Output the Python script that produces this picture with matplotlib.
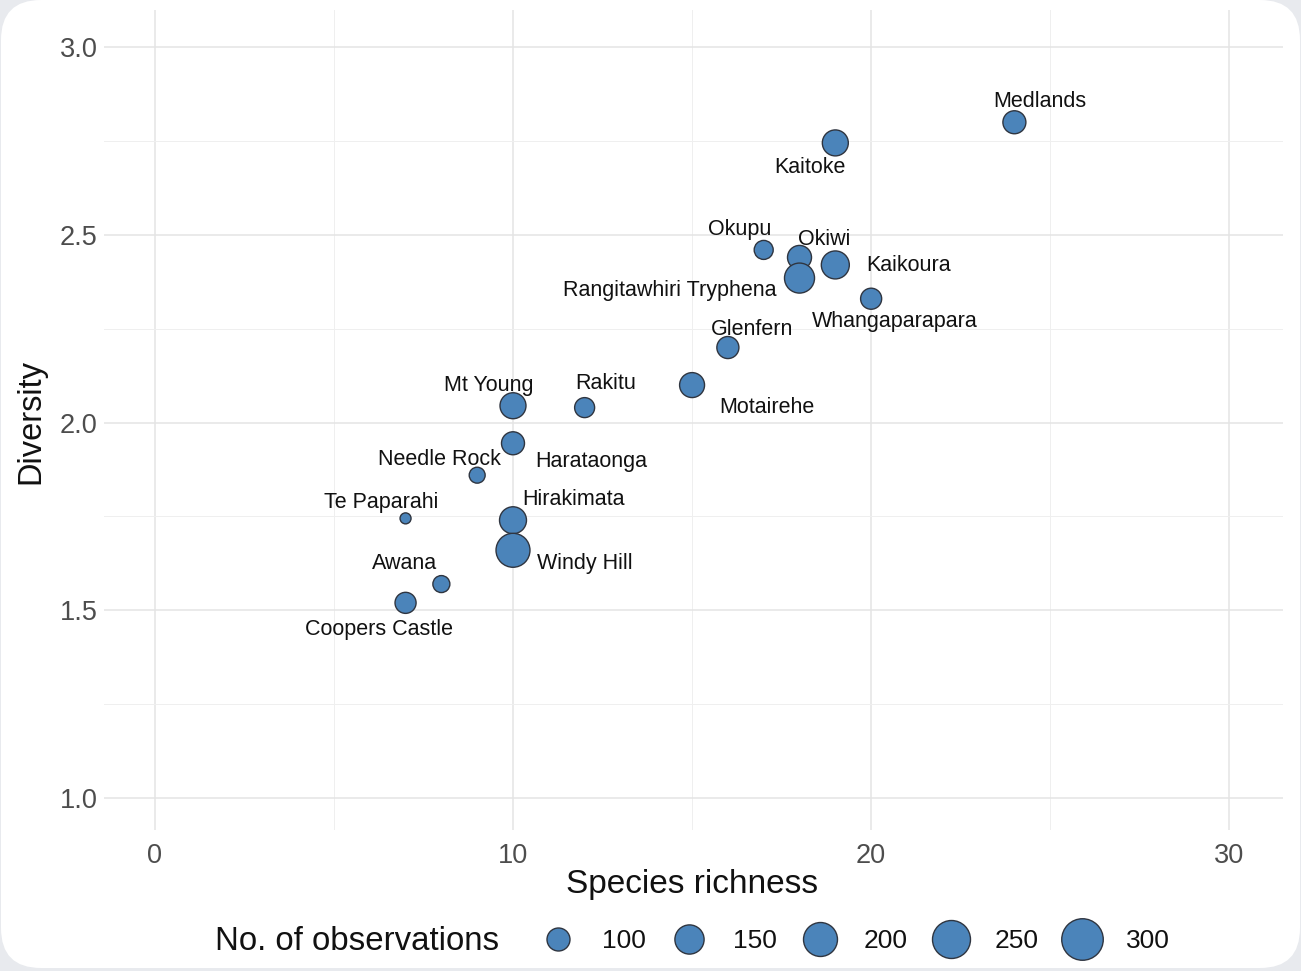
import numpy as np
import matplotlib
matplotlib.use("Agg")
import matplotlib.pyplot as plt
from matplotlib.patches import FancyBboxPatch

plt.rcParams["font.family"] = ["Liberation Sans", "DejaVu Sans"]

# ---- data -------------------------------------------------------------
sites = ["Medlands", "Kaitoke", "Okupu", "Okiwi", "Kaikoura",
         "Rangitawhiri Tryphena", "Whangaparapara", "Glenfern", "Motairehe",
         "Mt Young", "Rakitu", "Harataonga", "Needle Rock", "Te Paparahi",
         "Hirakimata", "Windy Hill", "Awana", "Coopers Castle"]
richness = [24, 19, 17, 18, 19, 18, 20, 16, 15, 10, 12, 10, 9, 7, 10, 10, 8, 7]
diversity = [2.80, 2.745, 2.46, 2.44, 2.42, 2.385, 2.33, 2.20, 2.10, 2.045,
             2.04, 1.945, 1.86, 1.745, 1.74, 1.66, 1.57, 1.52]
observations = [100, 122, 77, 107, 139, 158, 88, 94, 114, 122, 82, 100, 64,
                52, 130, 200, 68, 88]
legend_breaks = [100, 150, 200, 250, 300]
x_ticks = [0, 10, 20, 30]
y_ticks = [1.0, 1.5, 2.0, 2.5, 3.0]

# label offsets from each point, in pixels (dx right, dy down)
label_offsets = {
    "Medlands": (25, -23), "Kaitoke": (-25, 23), "Okupu": (-24, -22),
    "Okiwi": (25, -20), "Kaikoura": (73, -1),
    "Rangitawhiri Tryphena": (-130, 10), "Whangaparapara": (24, 21),
    "Glenfern": (24, -20), "Motairehe": (75, 20), "Mt Young": (-24, -22),
    "Rakitu": (21, -26), "Harataonga": (78, 16), "Needle Rock": (-38, -18),
    "Te Paparahi": (-24, -18), "Hirakimata": (61, -23),
    "Windy Hill": (72, 11), "Awana": (-37, -23), "Coopers Castle": (-27, 25),
}

W, H, DPI = 1301, 971, 100
PX = 72.0 / DPI  # points per pixel

FILL = "#4b84ba"
EDGE = "#2f3540"


def diameter_px(n):
    """Marker diameter (pixels) for a number of observations."""
    return 8 + 2.12 * np.sqrt(np.maximum(np.asarray(n, float) - 50, 0))


def marker_area(n):
    return (diameter_px(n) * PX) ** 2


fig = plt.figure(figsize=(W / DPI, H / DPI), dpi=DPI, facecolor="#e8eaee")

# rounded white card behind everything
bg = fig.add_axes([0, 0, 1, 1], zorder=-2)
bg.set_xlim(0, W)
bg.set_ylim(H, 0)
bg.axis("off")
bg.add_patch(FancyBboxPatch((1, 0), W - 2, 968, boxstyle="round,pad=0,rounding_size=40",
                            facecolor="white", edgecolor="none"))

# main panel
left, right, top, bottom = 104, 1283, 10, 830
ax = fig.add_axes([left / W, 1 - bottom / H, (right - left) / W, (bottom - top) / H])
ax.set_facecolor("none")
ax.set_xlim(-1.42, 31.5)
ax.set_ylim(0.915, 3.099)
for s in ax.spines.values():
    s.set_visible(False)
ax.set_xticks(x_ticks)
ax.set_yticks(y_ticks)
ax.set_yticklabels([f"{v:.1f}" for v in y_ticks])
ax.set_xticks([5, 15, 25], minor=True)
ax.set_yticks([1.25, 1.75, 2.25, 2.75], minor=True)
ax.tick_params(which="both", length=0)
ax.tick_params(axis="x", pad=9, labelsize=19.5, labelcolor="#4d4d4d")
ax.tick_params(axis="y", pad=4.5, labelsize=19.5, labelcolor="#4d4d4d")
ax.grid(which="major", color="#e4e4e4", linewidth=1.1)
ax.grid(which="minor", color="#efefef", linewidth=0.7)
ax.set_axisbelow(True)

ax.scatter(richness, diversity, s=marker_area(observations), c=FILL,
           edgecolors=EDGE, linewidths=1.0, zorder=3)

for name, x, y in zip(sites, richness, diversity):
    dx, dy = label_offsets[name]
    ax.annotate(name, (x, y), xytext=(dx * PX, -(dy + 2) * PX), textcoords="offset points",
                ha="center", va="center", fontsize=15.5, color="#111111", zorder=4)

fig.text(692 / W, 1 - 884 / H, "Species richness", ha="center", va="center",
         fontsize=24, color="#111111")
fig.text(31 / W, 1 - 422 / H, "Diversity", ha="center", va="center",
         rotation=90, fontsize=23.5, color="#111111")

# size legend along the bottom
lg = fig.add_axes([0, 0, 1, 1], zorder=5)
lg.set_xlim(0, W)
lg.set_ylim(H, 0)
lg.axis("off")
lg.set_facecolor("none")
ly = 939
lg.text(215, ly + 3, "No. of observations", ha="left", va="center",
        fontsize=23.8, color="#111111")
key_x0, key_step = 558, 131
for i, b in enumerate(legend_breaks):
    kx = key_x0 + i * key_step
    lg.scatter([kx], [ly], s=marker_area(b), c=FILL, edgecolors=EDGE, linewidths=1.0)
    lg.text(kx + 44, ly + 2, str(b), ha="left", va="center", fontsize=19, color="#111111")

fig.savefig("out.png", dpi=DPI, facecolor=fig.get_facecolor())
